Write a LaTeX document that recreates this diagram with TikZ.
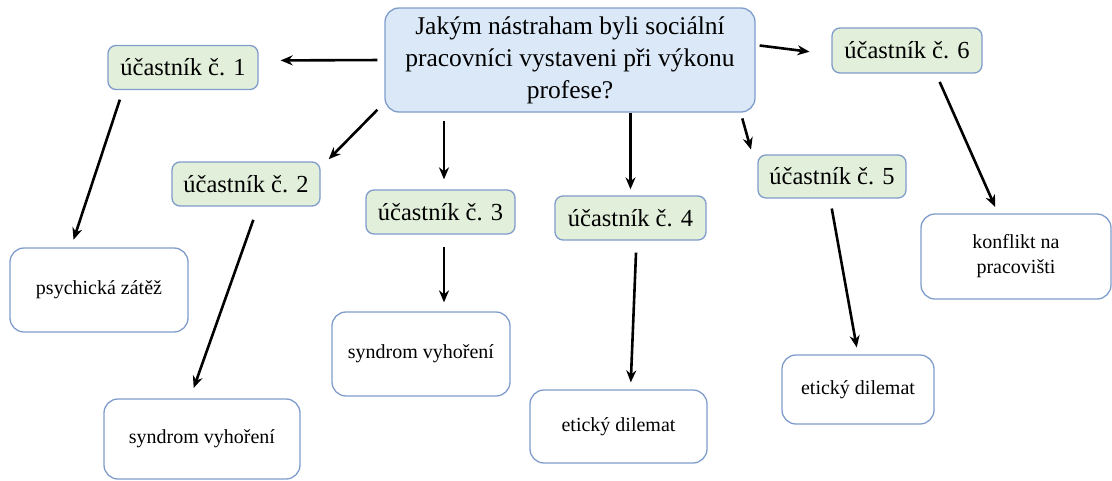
\documentclass[tikz,border=0pt]{standalone}
\usepackage{fontspec}
\setmainfont{Liberation Serif}
\usetikzlibrary{arrows.meta}
\definecolor{qfill}{HTML}{DAE8F7}
\definecolor{pfill}{HTML}{E2EFDA}
\definecolor{bord}{HTML}{7F9CCB}
\begin{document}
\begin{tikzpicture}[x=1pt,y=-1pt,
  box/.style={draw=bord,line width=1.3pt,align=center,inner sep=0pt},
  qbox/.style={box,fill=qfill,rounded corners=14pt,minimum width=370pt,minimum height=104pt,font=\fontsize{25.5}{32}\selectfont},
  pbox/.style={box,fill=pfill,rounded corners=8pt,minimum width=150pt,minimum height=44pt,font=\fontsize{24.5}{30}\selectfont},
  abox/.style={box,fill=white,rounded corners=14pt,font=\fontsize{20}{25}\selectfont},
  arr/.style={-{Stealth[length=12pt,width=10pt]},line width=2.6pt,black}]
\useasboundingbox (0,0) rectangle (1112,480);
\node[qbox] (main) at (570,60) {Jakým nástraham byli sociální\\pracovníci vystaveni při výkonu\\profese?};
\node[pbox] (p1) at (183,67.5) {účastník č. 1};
\node[pbox,minimum width=148pt] (p2) at (246,184) {účastník č. 2};
\node[pbox,minimum width=149pt] (p3) at (440.5,212) {účastník č. 3};
\node[pbox,minimum width=151pt] (p4) at (630.5,218) {účastník č. 4};
\node[pbox,minimum width=148pt,minimum height=43pt] (p5) at (832,176.5) {účastník č. 5};
\node[pbox,minimum height=45pt] (p6) at (907,50.5) {účastník č. 6};
\node[abox,minimum width=178pt,minimum height=84pt] (a1) at (99,290) {psychická zátěž};
\node[abox,minimum width=196pt,minimum height=80pt] (a2) at (202,439) {syndrom vyhoření};
\node[abox,minimum width=178pt,minimum height=84pt] (a3) at (421,354) {syndrom vyhoření};
\node[abox,minimum width=177pt,minimum height=73pt] (a4) at (618.5,426.5) {etický dilemat};
\node[abox,minimum width=152pt,minimum height=69pt] (a5) at (858,389.5) {etický dilemat};
\node[abox,minimum width=190pt,minimum height=85pt] (a6) at (1016,256.5) {konflikt na\\pracovišti};
% connectors
\draw[arr,shorten <=7pt,shorten >=22pt] (main.west) -- ([yshift=7pt]p1.east);
\draw[arr,shorten <=10pt,shorten >=3pt] ([yshift=10pt]main.south west) -- ([xshift=6pt]p2.north east);
\draw[arr,shorten <=8pt,shorten >=10pt] (main.south -| p3.north) ++(3.5,0) coordinate (m3) -- (m3 |- p3.north);
\draw[arr,shorten >=6pt] (main.south -| p4.north) -- (p4.north);
\draw[arr,shorten <=6pt,shorten >=5pt] ([xshift=-15pt]main.south east) -- ([xshift=-5pt]p5.north west);
\draw[arr,shorten <=4pt,shorten >=22pt] ([yshift=15pt]main.east) -- ([yshift=-4pt]p6.west);
\draw[arr,shorten <=10pt,shorten >=8pt] ([xshift=-60pt]p1.south) -- ([xshift=-28pt]a1.north);
\draw[arr,shorten <=14pt,shorten >=11pt] ([xshift=12pt]p2.south) -- ([xshift=-12pt]a2.north);
\draw[arr,shorten <=12pt,shorten >=9pt] ([xshift=3.5pt]p3.south) -- ([xshift=3.5pt]p3.south |- a3.north);
\draw[arr,shorten <=12pt,shorten >=7pt] ([xshift=6pt]p4.south) -- ([xshift=12pt]a4.north);
\draw[arr,shorten <=10pt,shorten >=7pt] ([xshift=-2pt]p5.south) -- (a5.north);
\draw[arr,shorten <=9pt,shorten >=7pt] ([xshift=29pt]p6.south) -- ([xshift=-18pt]a6.north);
\end{tikzpicture}
\end{document}
